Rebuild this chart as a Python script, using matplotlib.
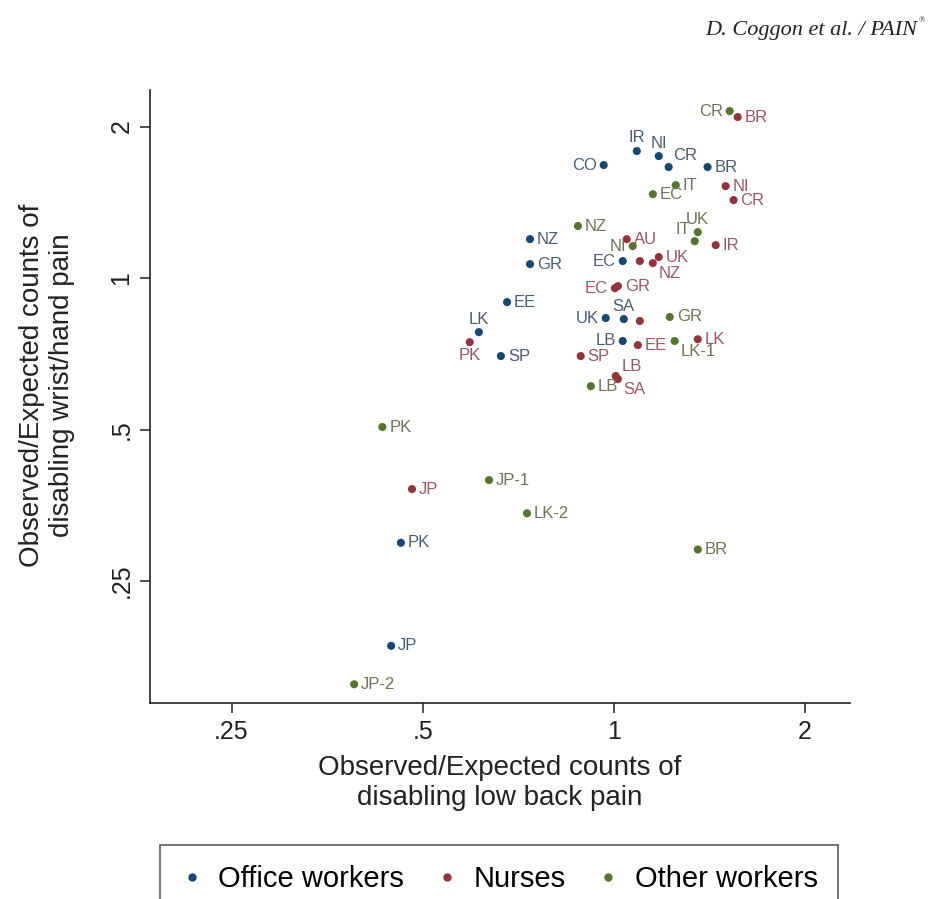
import matplotlib.pyplot as plt
from matplotlib.ticker import FixedLocator, FixedFormatter, NullLocator
from matplotlib.lines import Line2D

plt.rcParams['font.family'] = ['Liberation Sans', 'DejaVu Sans']

# observed/expected ratios: x = low back pain, y = wrist/hand pain
office_labels = ["CO", "IR", "NI", "CR", "BR", "NZ", "GR", "EC", "EE", "LK",
                 "SP", "UK", "SA", "LB", "PK", "JP"]
office_x = [0.964, 1.087, 1.177, 1.220, 1.405, 0.738, 0.738, 1.033, 0.679, 0.613,
            0.664, 0.971, 1.037, 1.033, 0.462, 0.446]
office_y = [1.677, 1.788, 1.747, 1.662, 1.662, 1.195, 1.066, 1.081, 0.896, 0.781,
            0.700, 0.833, 0.829, 0.750, 0.298, 0.186]

nurse_labels = ["BR", "NI", "CR", "IR", "AU", "", "NZ", "UK", "GR", "EC",
                "", "EE", "LK", "SP", "LB", "SA", "PK", "JP"]
nurse_x = [1.567, 1.500, 1.544, 1.447, 1.048, 1.099, 1.152, 1.177, 1.015, 1.004,
           1.099, 1.091, 1.356, 0.887, 1.007, 1.015, 0.593, 0.481]
nurse_y = [2.089, 1.523, 1.429, 1.163, 1.195, 1.081, 1.071, 1.101, 0.964, 0.955,
           0.822, 0.736, 0.756, 0.700, 0.639, 0.630, 0.746, 0.381]

other_labels = ["CR", "IT", "EC", "UK", "IT", "NZ", "NI", "GR", "LK-1", "LB",
                "PK", "JP-1", "LK-2", "BR", "JP-2"]
other_x = [1.522, 1.252, 1.152, 1.356, 1.341, 0.878, 1.071, 1.225, 1.247, 0.920,
           0.432, 0.636, 0.730, 1.356, 0.390]
other_y = [2.147, 1.530, 1.468, 1.234, 1.184, 1.269, 1.158, 0.837, 0.750, 0.610,
           0.506, 0.397, 0.341, 0.289, 0.156]

ticks = [0.25, 0.5, 1, 2]
tick_labels = [".25", ".5", "1", "2"]

# marker label placement, as clock positions
office_pos = [9, 12, 12, 1, 3, 3, 3, 9, 3, 12, 3, 9, 12, 9, 3, 3]
nurse_pos = [3, 3, 3, 3, 3, 0, 4, 3, 3, 9, 0, 3, 3, 3, 2, 4, 6, 3]
other_pos = [9, 3, 3, 12, 11, 3, 9, 3, 4, 3, 3, 3, 3, 3, 3]

CLOCK = {
    3: (1.0, 0.0, 'left', 'center'),
    9: (-1.0, 0.0, 'right', 'center'),
    12: (0.0, 1.0, 'center', 'bottom'),
    6: (0.0, -1.0, 'center', 'top'),
    11: (-0.6, 0.8, 'right', 'bottom'),
    1: (0.7, 0.7, 'left', 'bottom'),
    2: (0.8, 0.4, 'left', 'bottom'),
    4: (0.8, -0.6, 'left', 'top'),
}

groups = [
    ("Office workers", office_labels, office_x, office_y, office_pos, "#1a476f", "#4a5d72"),
    ("Nurses", nurse_labels, nurse_x, nurse_y, nurse_pos, "#90353b", "#9c5862"),
    ("Other workers", other_labels, other_x, other_y, other_pos, "#55752f", "#6a7658"),
]

fig = plt.figure(figsize=(9.39, 8.99), dpi=100)
ax = fig.add_axes([150 / 939, 1 - 703 / 899, 700 / 939, 613 / 899])

for name, labels, xs, ys, pos, col, lcol in groups:
    ax.scatter(xs, ys, s=34, color=col, edgecolors='none', zorder=3)
    for lab, x, y, p in zip(labels, xs, ys, pos):
        if not lab or p == 0:
            continue
        dx, dy, ha, va = CLOCK[p]
        ax.annotate(lab, (x, y), xytext=(dx * 5, dy * 4), textcoords='offset points',
                    ha=ha, va=va, fontsize=12, color=lcol)

ax.set_xscale('log')
ax.set_yscale('log')
ax.set_xlim(0.186, 2.355)
ax.set_ylim(0.1432, 2.364)

for axis in (ax.xaxis, ax.yaxis):
    axis.set_major_locator(FixedLocator(ticks))
    axis.set_major_formatter(FixedFormatter(tick_labels))
    axis.set_minor_locator(NullLocator())

ax.spines['top'].set_visible(False)
ax.spines['right'].set_visible(False)
for s in ('left', 'bottom'):
    ax.spines[s].set_linewidth(1.2)
    ax.spines[s].set_color('#222222')
ax.tick_params(axis='both', direction='out', length=7, width=1.1, labelsize=18,
               colors='#222222', pad=5)
for lab in ax.get_yticklabels():
    lab.set_rotation(90)
    lab.set_va('center')

ax.set_xlabel("Observed/Expected counts of\ndisabling low back pain", fontsize=20,
              labelpad=8, color='#222222')
fig.text(47 / 939, 1 - 385 / 899, "Observed/Expected counts of\ndisabling wrist/hand pain",
         rotation=90, ha='center', va='center', multialignment='center',
         fontsize=20, color='#222222')

handles = [Line2D([], [], ls='none', marker='o', markersize=5, color=g[5]) for g in groups]
leg = fig.legend(handles, [g[0] for g in groups], ncol=3, loc='upper left',
                 bbox_to_anchor=(160 / 939, 1 - 845 / 899, 678 / 939, 0), mode='expand',
                 borderaxespad=0, fontsize=21, frameon=True, fancybox=False,
                 borderpad=0.7, handletextpad=0.5, handlelength=0.8)
leg.get_frame().set_edgecolor('#333333')
leg.get_frame().set_linewidth(1.2)

fig.text(917 / 939, 1 - 30 / 899, "D. Coggon et al. / PAIN", ha='right', va='center',
         fontsize=16, style='italic', family='Liberation Serif', color='#222222')
fig.text(919 / 939, 1 - 20 / 899, "®", ha='left', va='center', fontsize=6,
         family='Liberation Serif', color='#222222')

fig.savefig("out.png", dpi=100)
